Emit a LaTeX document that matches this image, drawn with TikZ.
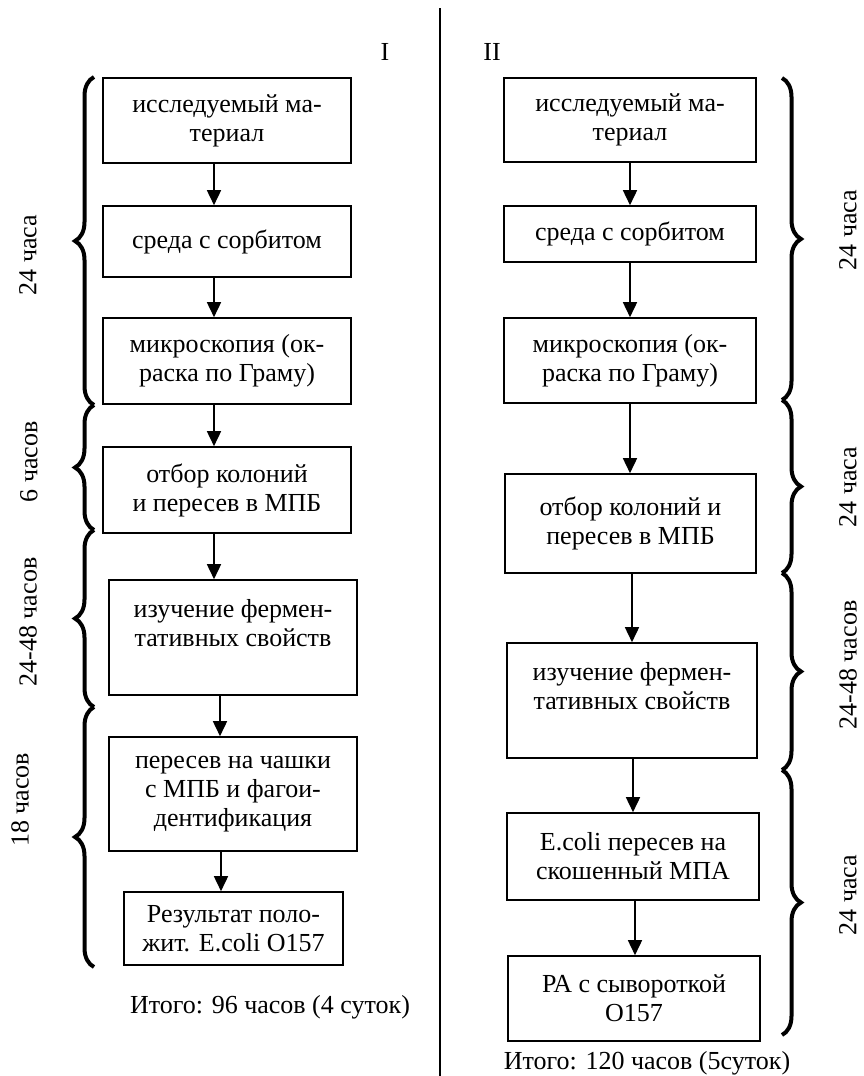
\documentclass[tikz,border=0pt]{standalone}
\usepackage{fontspec}
\setmainfont{Liberation Serif}
\usetikzlibrary{arrows.meta,decorations.pathreplacing}

\begin{document}
\begin{tikzpicture}[x=1pt, y=-1pt,
  every node/.style={font=\fontsize{26}{29}\selectfont},
  box/.style={draw, line width=1.6pt, align=center, inner sep=0pt},
  arr/.style={line width=1.6pt, -{Triangle[length=15pt,width=14pt]}},
  brc/.style={decorate, decoration={brace, amplitude=19pt}, line width=4pt},
  lbl/.style={rotate=90}]
\useasboundingbox (0,0) rectangle (863,1076);
\draw[line width=1.8pt] (440,8) -- (440,1076);
\node (hI) at (385,52) {I};
\node (hII) at (492,52) {II};

\node (l1) [box, minimum width=248pt, minimum height=85pt] at (227,120.5) {исследуемый ма-\\териал};
\node (l2) [box, minimum width=248pt, minimum height=71pt] at (227,241.5) {среда с сорбитом};
\node (l3) [box, minimum width=248pt, minimum height=86pt] at (227,361) {микроскопия (ок-\\раска по Граму)};
\node (l4) [box, minimum width=248pt, minimum height=86pt] at (227,490) {отбор колоний\\и пересев в МПБ};
\node (l5) [box, minimum width=248pt, minimum height=115pt] at (233,637.5) {изучение фермен-\\тативных свойств\\\mbox{}};
\node (l6) [box, minimum width=248pt, minimum height=114pt] at (233,794) {пересев на чашки\\с МПБ и фагои-\\дентификация};
\node (l7) [box, minimum width=219pt, minimum height=73pt] at (233.5,928.5) {Результат поло-\\жит. E.coli O157};
\node (totI) at (270,1007) {Итого: 96 часов (4 суток)};

\node (r1) [box, minimum width=252pt, minimum height=84pt] at (630,120) {исследуемый ма-\\териал};
\node (r2) [box, minimum width=252pt, minimum height=56pt] at (630,234) {среда с сорбитом};
\node (r3) [box, minimum width=252pt, minimum height=85pt] at (630,360.5) {микроскопия (ок-\\раска по Граму)};
\node (r4) [box, minimum width=251pt, minimum height=99pt] at (630.5,523.5) {отбор колоний и\\пересев в МПБ};
\node (r5) [box, minimum width=250pt, minimum height=115pt] at (632,700.5) {изучение фермен-\\тативных свойств\\\mbox{}};
\node (r6) [box, minimum width=252pt, minimum height=87pt] at (633,856.5) {E.coli пересев на\\скошенный МПА};
\node (r7) [box, minimum width=252pt, minimum height=85pt] at (634,998.5) {РА с сывороткой\\O157};
\node (totII) at (647,1063) {Итого: 120 часов (5суток)};

\foreach \a/\b/\s in {l1/l2/-13,l2/l3/-13,l3/l4/-13,l4/l5/-13,l5/l6/-13,l6/l7/-12,
                      r1/r2/0,r2/r3/0,r3/r4/0,r4/r5/1.5,r5/r6/1,r6/r7/2}
  \draw[arr] ([xshift=\s]\a.south) -- ([xshift=\s]\a.south |- \b.north);

\draw[brc] (94,405) -- (94,77);
\draw[brc] (94,530) -- (94,405);
\draw[brc] (94,707) -- (94,530);
\draw[brc] (94,967) -- (94,707);
\node (tl1) [lbl] at (28,255) {24 часа};
\node (tl2) [lbl] at (29,462) {6 часов};
\node (tl3) [lbl] at (28,622) {24-48 часов};
\node (tl4) [lbl] at (20,800) {18 часов};

\draw[brc] (782,78) -- (782,400);
\draw[brc] (782,400) -- (782,573);
\draw[brc] (782,573) -- (782,770);
\draw[brc] (782,770) -- (782,1035);
\node (tr1) [lbl] at (848,230) {24 часа};
\node (tr2) [lbl] at (848,487) {24 часа};
\node (tr3) [lbl] at (848,665) {24-48 часов};
\node (tr4) [lbl] at (848,895) {24 часа};
\end{tikzpicture}
\end{document}
